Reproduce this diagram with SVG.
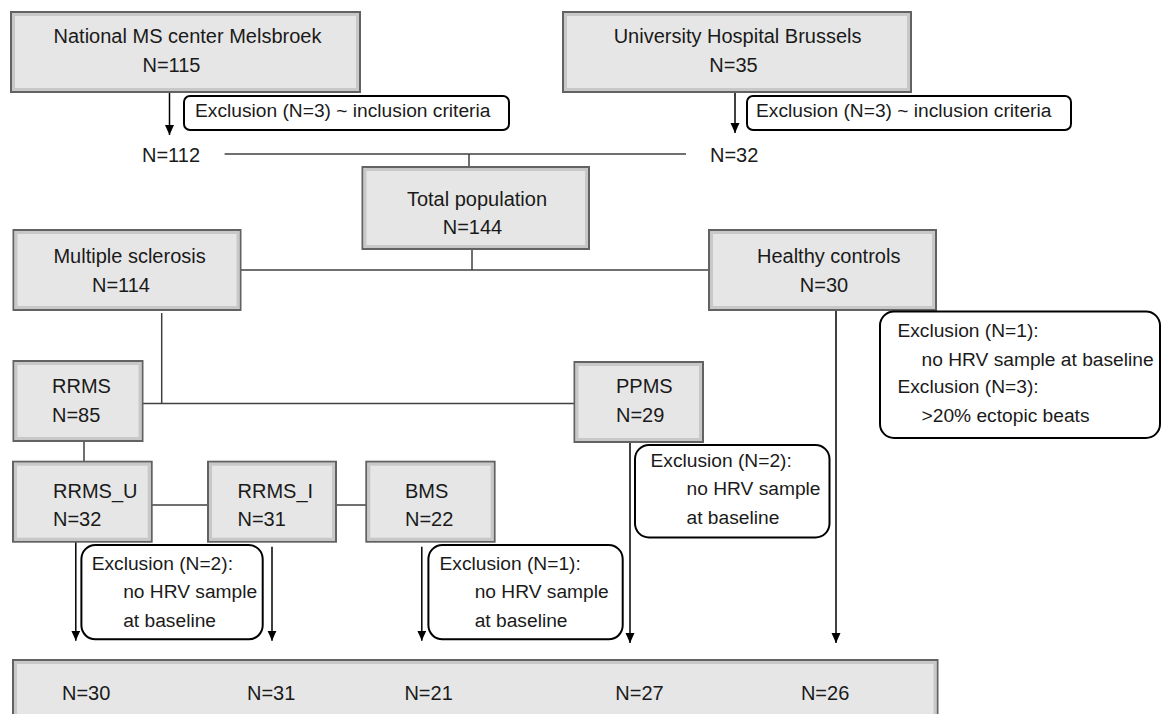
<svg xmlns="http://www.w3.org/2000/svg" width="1162" height="714" viewBox="0 0 1162 714">
<defs>
<style>
.box{fill:#e6e6e6;stroke:#626262;stroke-width:2}
.bev{fill:none;stroke:#c8c8c8;stroke-width:3}
.ex{fill:#fff;stroke:#000;stroke-width:2}
.t{font-family:"Liberation Sans",Arial,sans-serif;font-size:20px;fill:#1a1a1a}
.s{font-family:"Liberation Sans",Arial,sans-serif;font-size:19.2px;fill:#1a1a1a}
.m{text-anchor:middle}
.ln{stroke:#404040;stroke-width:1.5;fill:none}
.ar{stroke:#000;stroke-width:1.5;fill:none;marker-end:url(#ah)}
</style>
<marker id="ah" markerUnits="userSpaceOnUse" markerWidth="11" markerHeight="10" refX="10" refY="4.5" orient="auto">
<path d="M0,0 L10,4.5 L0,9 z" fill="#000"/>
</marker>
</defs>
<rect width="1162" height="714" fill="#fff"/>

<g id="connectors">
<line class="ar" x1="169.5" y1="93" x2="169.5" y2="135"/>
<line class="ar" x1="735" y1="92" x2="735" y2="133"/>
<line class="ln" x1="224.6" y1="154" x2="686" y2="154"/>
<line class="ln" x1="469" y1="154" x2="469" y2="167"/>
<line class="ln" x1="472" y1="249" x2="472" y2="270"/>
<line class="ln" x1="240.5" y1="270" x2="709" y2="270"/>
<line class="ln" x1="161.7" y1="313" x2="161.7" y2="404"/>
<line class="ln" x1="142.4" y1="403.5" x2="574.5" y2="403.5"/>
<line class="ln" x1="84" y1="441" x2="84" y2="462"/>
<line class="ln" x1="151.7" y1="505" x2="208" y2="505"/>
<line class="ln" x1="336" y1="505" x2="366.3" y2="505"/>
<line class="ar" x1="75.8" y1="541.7" x2="75.8" y2="640.7"/>
<line class="ar" x1="272" y1="546.7" x2="272" y2="640.7"/>
<line class="ar" x1="421.8" y1="546.7" x2="421.8" y2="640.7"/>
<line class="ar" x1="630" y1="442" x2="630" y2="643"/>
<line class="ar" x1="836" y1="310" x2="836" y2="643"/>
</g>

<g id="national">
<rect class="box" x="11" y="12" width="349" height="80"/>
<rect class="bev" x="13.5" y="14.5" width="344" height="75"/>
<text class="t m" x="187.5" y="43">National MS center Melsbroek</text>
<text class="t m" x="171.5" y="71.5">N=115</text>
</g>
<g id="university">
<rect class="box" x="563" y="12" width="348" height="80"/>
<rect class="bev" x="565.5" y="14.5" width="343" height="75"/>
<text class="t m" x="737.6" y="43">University Hospital Brussels</text>
<text class="t m" x="733.5" y="71.5">N=35</text>
</g>
<g id="excl-national">
<rect class="ex" x="184" y="96" width="325" height="34" rx="6"/>
<text class="s" x="195" y="117">Exclusion (N=3) ~ inclusion criteria</text>
</g>
<g id="excl-university">
<rect class="ex" x="747" y="96" width="324" height="34" rx="6"/>
<text class="s" x="756" y="117">Exclusion (N=3) ~ inclusion criteria</text>
</g>
<g id="n112"><text class="t" x="142" y="162">N=112</text></g>
<g id="n32"><text class="t" x="710" y="162">N=32</text></g>

<g id="total">
<rect class="box" x="362.5" y="167" width="226.5" height="82"/>
<rect class="bev" x="365" y="169.5" width="221.5" height="77"/>
<text class="t m" x="477" y="205.5">Total population</text>
<text class="t m" x="472.5" y="233.5">N=144</text>
</g>
<g id="ms">
<rect class="box" x="13.5" y="230" width="227" height="80"/>
<rect class="bev" x="16" y="232.5" width="222" height="75"/>
<text class="t m" x="129.6" y="263">Multiple sclerosis</text>
<text class="t m" x="121" y="291.7">N=114</text>
</g>
<g id="healthy">
<rect class="box" x="709" y="230" width="227" height="80"/>
<rect class="bev" x="711.5" y="232.5" width="222" height="75"/>
<text class="t m" x="828.7" y="263">Healthy controls</text>
<text class="t m" x="824" y="291.7">N=30</text>
</g>
<g id="excl-healthy">
<rect class="ex" x="880" y="311.5" width="280" height="126.5" rx="14"/>
<text class="s" x="897.4" y="336.7">Exclusion (N=1):</text>
<text class="s" x="921.5" y="365.7">no HRV sample at baseline</text>
<text class="s" x="897.4" y="393.3">Exclusion (N=3):</text>
<text class="s" x="921.5" y="421.7">&gt;20% ectopic beats</text>
</g>
<g id="rrms">
<rect class="box" x="13.5" y="361" width="129" height="80"/>
<rect class="bev" x="16" y="363.5" width="124" height="75"/>
<text class="t" x="52" y="393">RRMS</text>
<text class="t" x="52" y="422">N=85</text>
</g>
<g id="ppms">
<rect class="box" x="574.5" y="362" width="128.5" height="80"/>
<rect class="bev" x="577" y="364.5" width="123.5" height="75"/>
<text class="t" x="616" y="393">PPMS</text>
<text class="t" x="616" y="422">N=29</text>
</g>
<g id="excl-ppms">
<rect class="ex" x="635" y="445" width="194.5" height="92.5" rx="14"/>
<text class="s" x="650.5" y="466.7">Exclusion (N=2):</text>
<text class="s" x="686.5" y="495">no HRV sample</text>
<text class="s" x="686.5" y="524">at baseline</text>
</g>
<g id="rrms-u">
<rect class="box" x="13" y="461.7" width="138.7" height="80"/>
<rect class="bev" x="15.5" y="464.2" width="133.7" height="75"/>
<text class="t" x="53" y="497.7">RRMS_U</text>
<text class="t" x="53" y="526">N=32</text>
</g>
<g id="rrms-i">
<rect class="box" x="208" y="461.7" width="128" height="80"/>
<rect class="bev" x="210.5" y="464.2" width="123" height="75"/>
<text class="t" x="237.5" y="497.7">RRMS_I</text>
<text class="t" x="237.5" y="526">N=31</text>
</g>
<g id="bms">
<rect class="box" x="366.3" y="461.7" width="128.3" height="80"/>
<rect class="bev" x="368.8" y="464.2" width="123.3" height="75"/>
<text class="t" x="405" y="497.7">BMS</text>
<text class="t" x="405" y="526">N=22</text>
</g>
<g id="excl-rrms">
<rect class="ex" x="81.4" y="545" width="181.3" height="94.3" rx="14"/>
<text class="s" x="91.7" y="570">Exclusion (N=2):</text>
<text class="s" x="123.2" y="598.3">no HRV sample</text>
<text class="s" x="123.2" y="626.7">at baseline</text>
</g>
<g id="excl-bms">
<rect class="ex" x="428.4" y="545" width="194.3" height="94.3" rx="14"/>
<text class="s" x="439.5" y="570">Exclusion (N=1):</text>
<text class="s" x="474.7" y="598.3">no HRV sample</text>
<text class="s" x="474.7" y="626.7">at baseline</text>
</g>
<g id="final">
<rect class="box" x="13" y="660" width="924.5" height="70"/>
<rect class="bev" x="15.5" y="662.5" width="919.5" height="65"/>
<text class="t" x="62" y="700">N=30</text>
<text class="t" x="247" y="700">N=31</text>
<text class="t" x="404.4" y="700">N=21</text>
<text class="t" x="615.3" y="700">N=27</text>
<text class="t" x="800.9" y="700">N=26</text>
</g>
</svg>
